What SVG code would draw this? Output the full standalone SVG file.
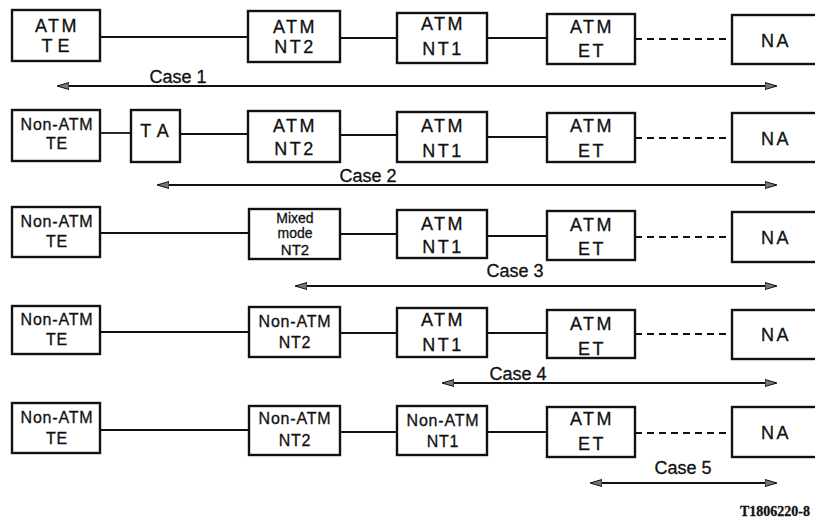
<svg xmlns="http://www.w3.org/2000/svg" width="815" height="520" viewBox="0 0 815 520">
<defs>
<style>
.box{fill:#fff;stroke:#111;stroke-width:2.4}
text{stroke:#111;stroke-width:0.3}
.t{font-family:"Liberation Sans",Arial,sans-serif;font-size:18px;fill:#111;text-anchor:middle;letter-spacing:2.5px}
.w{letter-spacing:5px}
.s{font-family:"Liberation Sans",Arial,sans-serif;font-size:16px;fill:#111;text-anchor:middle;letter-spacing:0.8px}
.m{font-family:"Liberation Sans",Arial,sans-serif;font-size:14px;fill:#111;text-anchor:middle}
.c{font-family:"Liberation Sans",Arial,sans-serif;font-size:18px;fill:#111;text-anchor:middle}
.ln{stroke:#111;stroke-width:1.8;fill:none}
.dl{stroke:#111;stroke-width:2;fill:none;stroke-dasharray:7 5}
.ar{stroke:#111;stroke-width:1.8;fill:none;marker-start:url(#ah);marker-end:url(#ah)}
</style>
<marker id="ah" viewBox="0 0 12 8" refX="11" refY="4" markerWidth="12" markerHeight="8" markerUnits="userSpaceOnUse" orient="auto-start-reverse">
<path d="M0,0.5 L12,4 L0,7.5 Z" fill="#777" stroke="#111" stroke-width="1"/>
</marker>
</defs>

<g id="connectors">
<line class="ln" x1="100" y1="37" x2="248" y2="37"/>
<line class="ln" x1="340" y1="38" x2="397" y2="38"/>
<line class="ln" x1="487" y1="38" x2="547" y2="38"/>
<line class="dl" x1="635" y1="39" x2="732" y2="39"/>
<line class="ar" x1="58" y1="86" x2="776" y2="86"/>
<line class="ln" x1="100" y1="133" x2="131" y2="133"/>
<line class="ln" x1="180" y1="134" x2="248" y2="134"/>
<line class="ln" x1="340" y1="135" x2="397" y2="135"/>
<line class="ln" x1="487" y1="137" x2="547" y2="137"/>
<line class="dl" x1="635" y1="138" x2="732" y2="138"/>
<line class="ar" x1="158" y1="185" x2="776" y2="185"/>
<line class="ln" x1="100" y1="233" x2="249" y2="233"/>
<line class="ln" x1="340" y1="234" x2="397" y2="234"/>
<line class="ln" x1="487" y1="236" x2="547" y2="236"/>
<line class="dl" x1="635" y1="237" x2="732" y2="237"/>
<line class="ar" x1="296" y1="286" x2="776" y2="286"/>
<line class="ln" x1="100" y1="332" x2="249" y2="332"/>
<line class="ln" x1="340" y1="333" x2="397" y2="333"/>
<line class="ln" x1="487" y1="333" x2="547" y2="333"/>
<line class="dl" x1="635" y1="334" x2="732" y2="334"/>
<line class="ar" x1="443" y1="383" x2="776" y2="383"/>
<line class="ln" x1="100" y1="430" x2="249" y2="430"/>
<line class="ln" x1="340" y1="432" x2="397" y2="432"/>
<line class="ln" x1="487" y1="432" x2="547" y2="432"/>
<line class="dl" x1="635" y1="433" x2="732" y2="433"/>
<line class="ar" x1="591" y1="483" x2="776" y2="483"/>
</g>

<g id="r1-te"><rect class="box" x="12" y="10" width="88" height="51"/><text class="t" x="57" y="32">ATM</text><text class="t w" x="58" y="52">TE</text></g>
<g id="r1-nt2"><rect class="box" x="248" y="11" width="92" height="51"/><text class="t" x="295" y="33">ATM</text><text class="t" x="295" y="53">NT2</text></g>
<g id="r1-nt1"><rect class="box" x="397" y="13" width="90" height="50"/><text class="t" x="443" y="30">ATM</text><text class="t" x="443" y="55">NT1</text></g>
<g id="r1-et"><rect class="box" x="547" y="14" width="88" height="50"/><text class="t" x="592" y="33">ATM</text><text class="t" x="592" y="57">ET</text></g>
<g id="r1-na"><rect class="box" x="732" y="15" width="100" height="49"/><text class="t" x="776" y="47">NA</text></g>
<g id="r1-label"><text class="c" x="178" y="83">Case 1</text></g>

<g id="r2-te"><rect class="box" x="12" y="110" width="88" height="51"/><text class="s" x="57" y="130">Non-ATM</text><text class="s" x="57" y="149">TE</text></g>
<g id="r2-ta"><rect class="box" x="131" y="110" width="49" height="52"/><text class="t" x="158" y="137" style="letter-spacing:7px">TA</text></g>
<g id="r2-nt2"><rect class="box" x="248" y="111" width="92" height="51"/><text class="t" x="295" y="132">ATM</text><text class="t" x="295" y="155">NT2</text></g>
<g id="r2-nt1"><rect class="box" x="397" y="112" width="90" height="50"/><text class="t" x="443" y="132">ATM</text><text class="t" x="443" y="157">NT1</text></g>
<g id="r2-et"><rect class="box" x="547" y="113" width="88" height="49"/><text class="t" x="592" y="132">ATM</text><text class="t" x="592" y="157">ET</text></g>
<g id="r2-na"><rect class="box" x="732" y="113" width="100" height="49"/><text class="t" x="776" y="145">NA</text></g>
<g id="r2-label"><text class="c" x="368" y="182">Case 2</text></g>

<g id="r3-te"><rect class="box" x="12" y="207" width="88" height="50"/><text class="s" x="57" y="227">Non-ATM</text><text class="s" x="57" y="247">TE</text></g>
<g id="r3-nt2"><rect class="box" x="249" y="209" width="91" height="50"/><text class="m" x="295" y="223">Mixed</text><text class="m" x="295" y="238">mode</text><text class="m" x="295" y="255" style="font-size:15px">NT2</text></g>
<g id="r3-nt1"><rect class="box" x="397" y="210" width="90" height="48"/><text class="t" x="443" y="230">ATM</text><text class="t" x="443" y="253">NT1</text></g>
<g id="r3-et"><rect class="box" x="547" y="211" width="88" height="49"/><text class="t" x="592" y="231">ATM</text><text class="t" x="592" y="255">ET</text></g>
<g id="r3-na"><rect class="box" x="732" y="212" width="100" height="50"/><text class="t" x="776" y="244">NA</text></g>
<g id="r3-label"><text class="c" x="515" y="277">Case 3</text></g>

<g id="r4-te"><rect class="box" x="12" y="306" width="88" height="48"/><text class="s" x="57" y="325">Non-ATM</text><text class="s" x="57" y="345">TE</text></g>
<g id="r4-nt2"><rect class="box" x="249" y="307" width="91" height="50"/><text class="s" x="295" y="327">Non-ATM</text><text class="s" x="295" y="348">NT2</text></g>
<g id="r4-nt1"><rect class="box" x="397" y="308" width="90" height="49"/><text class="t" x="443" y="326">ATM</text><text class="t" x="443" y="351">NT1</text></g>
<g id="r4-et"><rect class="box" x="547" y="310" width="88" height="48"/><text class="t" x="592" y="330">ATM</text><text class="t" x="592" y="355">ET</text></g>
<g id="r4-na"><rect class="box" x="732" y="310" width="100" height="49"/><text class="t" x="776" y="341">NA</text></g>
<g id="r4-label"><text class="c" x="518" y="380">Case 4</text></g>

<g id="r5-te"><rect class="box" x="12" y="403" width="88" height="50"/><text class="s" x="57" y="423">Non-ATM</text><text class="s" x="57" y="444">TE</text></g>
<g id="r5-nt2"><rect class="box" x="249" y="406" width="91" height="49"/><text class="s" x="295" y="424">Non-ATM</text><text class="s" x="295" y="446">NT2</text></g>
<g id="r5-nt1"><rect class="box" x="397" y="406" width="90" height="49"/><text class="s" x="443" y="426">Non-ATM</text><text class="s" x="443" y="447">NT1</text></g>
<g id="r5-et"><rect class="box" x="547" y="407" width="88" height="50"/><text class="t" x="592" y="425">ATM</text><text class="t" x="592" y="450">ET</text></g>
<g id="r5-na"><rect class="box" x="732" y="407" width="100" height="50"/><text class="t" x="776" y="439">NA</text></g>
<g id="r5-label"><text class="c" x="683" y="474">Case 5</text></g>

<text x="740" y="516" font-family="'Liberation Serif','Times New Roman',serif" font-size="14" font-weight="bold" fill="#111">T1806220-8</text>
</svg>
